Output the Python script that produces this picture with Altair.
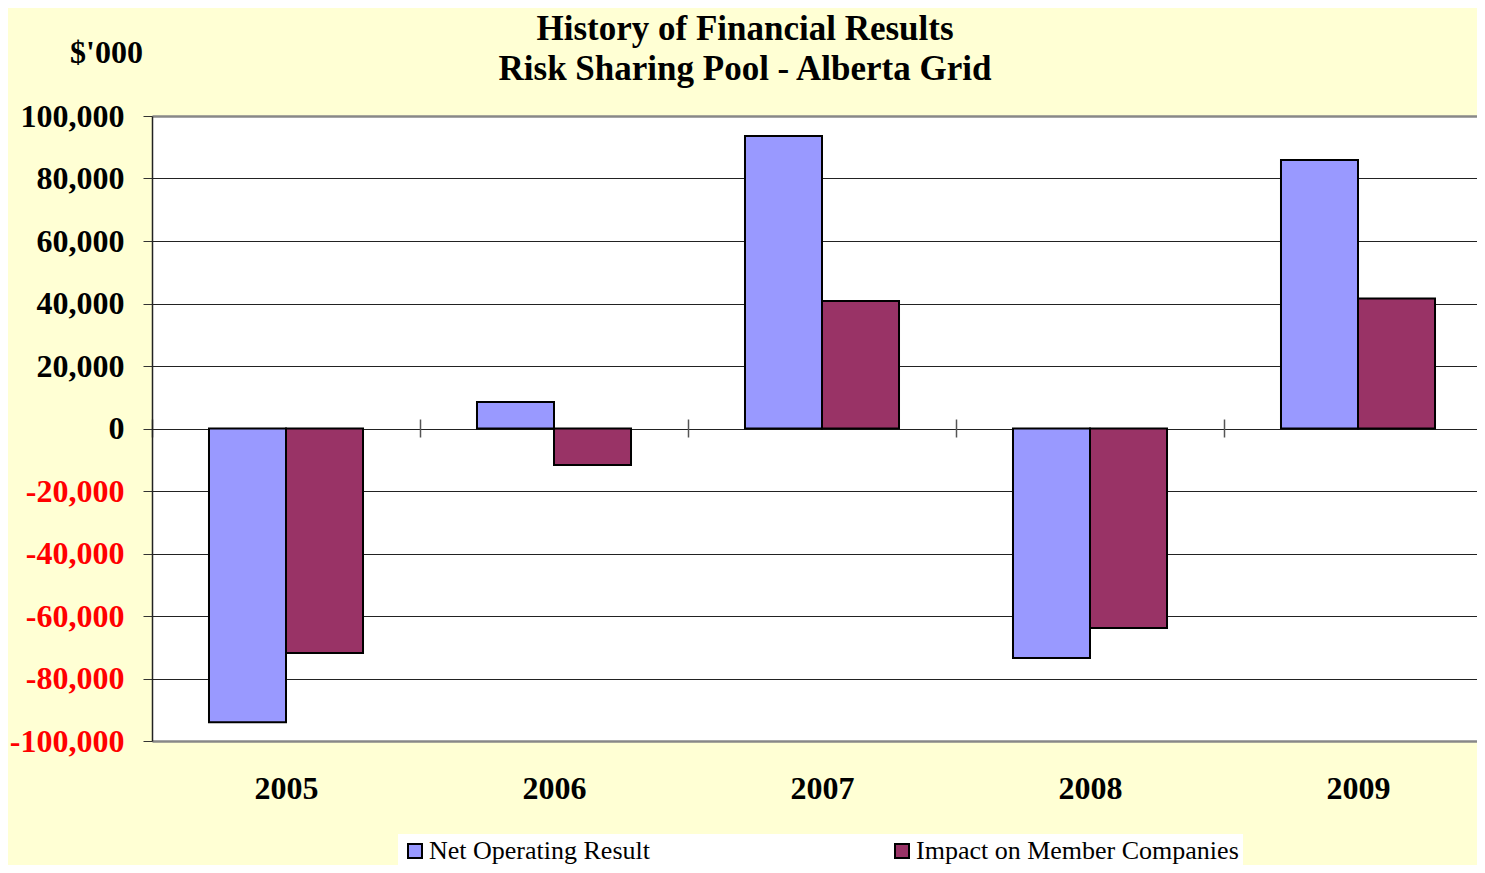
import altair as alt
import pandas as pd

years = ["2005", "2006", "2007", "2008", "2009"]
net_operating = [-94000, 8500, 93600, -73400, 85900]
impact_members = [-71800, -11700, 40800, -63800, 41600]
series_names = ["Net Operating Result", "Impact on Member Companies"]
series_colors = ["#9999FF", "#993366"]
y_ticks = [-100000, -80000, -60000, -40000, -20000, 0, 20000, 40000, 60000, 80000, 100000]
title_lines = ["History of Financial Results", "Risk Sharing Pool - Alberta Grid"]
unit_label = "$'000"

rows = []
for i, yr in enumerate(years):
    rows.append({"year": yr, "series": series_names[0], "value": net_operating[i]})
    rows.append({"year": yr, "series": series_names[1], "value": impact_members[i]})
df = pd.DataFrame(rows)

FONT = "Liberation Serif"

chart = alt.Chart(df).mark_bar(stroke="black", strokeWidth=2).encode(
    x=alt.X(
        "year:N", sort=years,
        scale=alt.Scale(paddingInner=0, paddingOuter=0),
        axis=alt.Axis(
            title=None, orient="bottom", offset=-322, domain=False, grid=False,
            ticks=True, tickBand="extent", tickSize=18, tickColor="#555555", tickWidth=1.5,
            labelAngle=0, labelFont=FONT, labelFontSize=32, labelFontWeight="bold",
            labelColor="black", labelPadding=336,
        ),
    ),
    xOffset=alt.XOffset("series:N", sort=series_names,
                        scale=alt.Scale(paddingInner=0, paddingOuter=0.74)),
    y=alt.Y(
        "value:Q",
        scale=alt.Scale(domain=[-100000, 100000], nice=False, zero=False),
        axis=alt.Axis(
            values=y_ticks,
            labelExpr="(datum.value < 0 ? '-' : '') + format(abs(datum.value), ',d')",
            title=unit_label, titleAngle=0, titleX=-46, titleY=-64,
            titleAlign="center", titleBaseline="middle", titleFont=FONT,
            titleFontSize=32, titleFontWeight="bold", titleColor="black",
            labelFont=FONT, labelFontSize=32, labelFontWeight="bold",
            labelColor={"condition": {"test": "datum.value < 0", "value": "#FF0000"}, "value": "black"},
            labelPadding=19, tickSize=9, tickColor="#333333",
            domainColor="#222222", domainWidth=1.5,
            gridColor={"condition": {"test": "abs(datum.value) == 100000", "value": "#888888"}, "value": "#222222"},
            gridWidth={"condition": {"test": "abs(datum.value) == 100000", "value": 2.5}, "value": 1},
        ),
    ),
    color=alt.Color(
        "series:N", sort=series_names,
        scale=alt.Scale(domain=series_names, range=series_colors),
        legend=alt.Legend(
            title=None, orient="none", legendX=246, legendY=718, direction="horizontal",
            symbolType="square", symbolSize=196, symbolStrokeColor="black",
            symbolStrokeWidth=2, labelFont=FONT, labelFontSize=26, labelColor="black",
            columnPadding=239, padding=4, fillColor="white", labelOffset=1, labelLimit=500,
        ),
    ),
).properties(
    width=1340,
    height=625,
    autosize=alt.AutoSizeParams(type="none"),
    padding={"left": 144, "top": 108, "right": -15, "bottom": 124},
    title=alt.Title(title_lines, font=FONT, fontSize=35, fontWeight="bold", color="black",
                    anchor="middle", frame="group", dx=-77, dy=83, lineHeight=40, offset=32),
).configure(
    background="#FFFFD4",
).configure_view(
    fill="white", stroke="transparent",
)

chart.save("out.html", embed_options={"renderer": "svg", "actions": False})
